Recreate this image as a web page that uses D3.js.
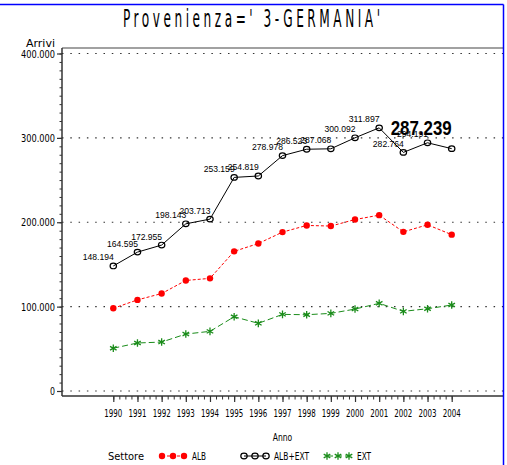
<!DOCTYPE html>
<html>
<head>
<meta charset="utf-8">
<script src="https://cdn.jsdelivr.net/npm/d3@7"></script>
<style>
body { margin: 0; background: #fff; }
svg { display: block; }
.sas { font-family: "DejaVu Sans Condensed", "DejaVu Sans", sans-serif; }
</style>
</head>
<body>
<div id="wrapper"></div>
<script>
var width = 507, height = 465;

// data
var years = [1990, 1991, 1992, 1993, 1994, 1995, 1996, 1997, 1998, 1999, 2000, 2001, 2002, 2003, 2004];
var albExt = [148194, 164595, 172955, 198143, 203713, 253159, 254819, 278978, 286523, 287068, 300092, 311897, 282764, 294191, 287239];
var alb = [98000, 108000, 115500, 131000, 133500, 165500, 174800, 188300, 196200, 195500, 203200, 208400, 188600, 197000, 185300];
var ext = [50700, 56900, 58000, 67500, 70700, 88000, 80200, 90800, 90400, 92000, 97100, 103900, 94400, 97500, 101900];
var yTicks = [0, 100000, 200000, 300000, 400000];
var legendNames = ["ALB", "ALB+EXT", "EXT"];

var loc = d3.formatLocale({decimal: ",", thousands: ".", grouping: [3], currency: ["", ""]});
var fmt = loc.format(",");

var svg = d3.select("#wrapper").append("svg")
	.attr("width", width)
	.attr("height", height);

var x = d3.scaleLinear().domain([1990, 2004]).range([113.3, 451.7]);
var y = d3.scaleLinear().domain([0, 400000]).range([391, 53.5]);

var plotL = 62, plotR = 503, plotT = 48, plotB = 396;

// squeezed text, like the SAS hardware font
function sasText(g, str, px, py, len, anchor, size){
	return g.append("text")
		.attr("class", "sas")
		.attr("x", px).attr("y", py)
		.attr("text-anchor", anchor || "start")
		.attr("font-size", size || 11)
		.attr("textLength", len)
		.attr("lengthAdjust", "spacingAndGlyphs")
		.text(str);
}

// title: narrow glyphs, wide spacing
var sx = 0.55;
svg.append("text")
	.attr("class", "sas")
	.attr("transform", "translate(123,27) scale(" + sx + ",1)")
	.attr("font-size", 24.5)
	.attr("textLength", 257 / sx)
	.attr("lengthAdjust", "spacing")
	.text("Provenienza=' 3-GERMANIA'");

// grid
svg.append("g").selectAll("line").data(yTicks).join("line")
	.attr("x1", plotL).attr("x2", plotR)
	.attr("y1", function(d){ return y(d); }).attr("y2", function(d){ return y(d); })
	.attr("stroke", "#333").attr("stroke-width", 1.2)
	.attr("stroke-dasharray", "1.5,6.8");

// frame lines
svg.append("line").attr("x1", plotL).attr("x2", plotR).attr("y1", plotT).attr("y2", plotT)
	.attr("stroke", "#444").attr("stroke-width", 1.2);
svg.append("line").attr("x1", plotL).attr("x2", plotR).attr("y1", plotB).attr("y2", plotB)
	.attr("stroke", "#333").attr("stroke-width", 1.5);
svg.append("line").attr("x1", plotL).attr("x2", plotL).attr("y1", plotT).attr("y2", plotB)
	.attr("stroke", "#333").attr("stroke-width", 1.5);

// y axis
var yMinor = d3.range(0, 400001, 10000);
svg.append("g").attr("transform", "translate(" + plotL + ",0)")
	.call(d3.axisLeft(y).tickValues(yMinor).tickSize(2.5).tickFormat(""))
	.call(function(g){ g.select(".domain").remove(); g.selectAll("line").attr("stroke", "#333"); });
svg.append("g").attr("transform", "translate(" + plotL + ",0)")
	.call(d3.axisLeft(y).tickValues(yTicks).tickSize(5).tickFormat(""))
	.call(function(g){ g.select(".domain").remove(); g.selectAll("line").attr("stroke", "#333").attr("stroke-width", 1.2); });
yTicks.forEach(function(t){
	var s = fmt(t);
	sasText(svg, s, 55, y(t) + 4, s.length === 1 ? 5 : 34, "end", 11);
});
sasText(svg, "Arrivi", 55, 46.5, 29, "end", 10);

// x axis
var xMinor = d3.range(1990, 2004.01, 0.25);
svg.append("g").attr("transform", "translate(0," + plotB + ")")
	.call(d3.axisBottom(x).tickValues(xMinor).tickSize(3.5).tickFormat(""))
	.call(function(g){ g.select(".domain").remove(); g.selectAll("line").attr("stroke", "#333"); });
svg.append("g").attr("transform", "translate(0," + plotB + ")")
	.call(d3.axisBottom(x).tickValues(years).tickSize(6).tickFormat(""))
	.call(function(g){ g.select(".domain").remove(); g.selectAll("line").attr("stroke", "#333").attr("stroke-width", 1.2); });
years.forEach(function(yr){
	sasText(svg, String(yr), x(yr), 417, 18, "middle", 11);
});
sasText(svg, "Anno", 282.5, 441, 19.5, "middle", 11);

// series
var series = [
	{name: "ALB", values: alb, color: "#ff0000", dash: "3,2", mark: "dot"},
	{name: "ALB+EXT", values: albExt, color: "#000000", dash: null, mark: "circle"},
	{name: "EXT", values: ext, color: "#1a8c1a", dash: "6,3", mark: "star"}
];

var line = d3.line()
	.x(function(d){ return x(d[0]); })
	.y(function(d){ return y(d[1]); });

function drawMark(g, m, color, px, py){
	if (m === "dot") {
		g.append("circle").attr("cx", px).attr("cy", py).attr("r", 3.2).attr("fill", color);
	} else if (m === "circle") {
		g.append("ellipse").attr("cx", px).attr("cy", py).attr("rx", 3.2).attr("ry", 2.8)
			.attr("fill", "none").attr("stroke", color).attr("stroke-width", 1.2);
	} else {
		g.append("path").attr("d", d3.symbol(d3.symbolAsterisk, 40)())
			.attr("transform", "translate(" + px + "," + py + ")")
			.attr("fill", "none").attr("stroke", color).attr("stroke-width", 1.3);
	}
}

series.forEach(function(s){
	var pts = years.map(function(yr, i){ return [yr, s.values[i]]; });
	var p = svg.append("path").datum(pts)
		.attr("d", line)
		.attr("fill", "none")
		.attr("stroke", s.color)
		.attr("stroke-width", 1);
	if (s.dash) p.attr("stroke-dasharray", s.dash);
	var g = svg.append("g");
	pts.forEach(function(d){ drawMark(g, s.mark, s.color, x(d[0]), y(d[1])); });
});

// labels on ALB+EXT
var lab = svg.append("g").attr("font-family", "'Liberation Sans', Arial, sans-serif");
years.forEach(function(yr, i){
	var last = i === years.length - 1;
	var t = lab.append("text")
		.attr("x", x(yr) + (last ? 0 : 0.5))
		.attr("y", last ? y(albExt[i]) - 14 : y(albExt[i]) - 5.5)
		.attr("text-anchor", "end")
		.attr("font-size", last ? 20 : 9.5)
		.attr("font-weight", last ? "bold" : "normal")
		.text(fmt(albExt[i]));
	if (last) t.attr("textLength", 61).attr("lengthAdjust", "spacingAndGlyphs");
	else t.attr("textLength", 31).attr("lengthAdjust", "spacingAndGlyphs");
});

// legend
var ly = 456;
sasText(svg, "Settore", 108, ly + 4, 36, "start", 11);
var legX = [162, 244, 327];
var legTextX = [192, 274, 357];
var legLen = [14, 35, 14];
series.forEach(function(s, i){
	var g = svg.append("g");
	var l = g.append("line").attr("x1", legX[i]).attr("x2", legX[i] + 22)
		.attr("y1", ly).attr("y2", ly).attr("stroke", s.color).attr("stroke-width", 1);
	if (s.dash) l.attr("stroke-dasharray", s.dash);
	[0, 11, 22].forEach(function(o){ drawMark(g, s.mark, s.color, legX[i] + o, ly); });
	sasText(svg, legendNames[i], legTextX[i], ly + 4, legLen[i], "start", 11);
});

// blue border
svg.append("line").attr("x1", 0).attr("x2", 503.5).attr("y1", 4.5).attr("y2", 4.5)
	.attr("stroke", "#0000ff").attr("stroke-width", 1.5);
svg.append("line").attr("x1", 503.5).attr("x2", 503.5).attr("y1", 4.5).attr("y2", height)
	.attr("stroke", "#0000ff").attr("stroke-width", 1.5);
</script>
</body>
</html>
